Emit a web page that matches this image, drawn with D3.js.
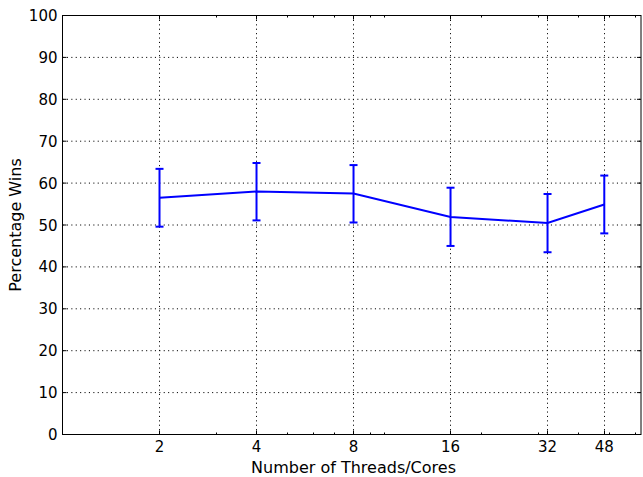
<!DOCTYPE html>
<html lang="en">
<head>
    <meta charset="UTF-8">
    <script src="https://d3js.org/d3.v7.min.js"></script>
    <style>
        body { margin: 0; background: #fff; }
        text { font-family: "DejaVu Sans", sans-serif; fill: #000; }
    </style>
    <title>Percentage Wins</title>
</head>
<body>
    <div class="canvas"></div>
    <script>
        const threads = [2, 4, 8, 16, 32, 48]
        const winPct = [56.5, 58.0, 57.5, 51.9, 50.5, 54.9]
        const errLow = [49.6, 51.1, 50.6, 45.0, 43.5, 48.0]
        const errHigh = [63.4, 64.8, 64.3, 58.9, 57.4, 61.8]
        const yTicks = [0, 10, 20, 30, 40, 50, 60, 70, 80, 90, 100]
        const minorTicks = [3, 5, 6, 7, 9, 10, 20, 30, 40, 50, 60]

        const width = 643, height = 477
        const [mt, mr, mb, ml] = [15.5, 2, 42.5, 62.5]
        const w = width - ml - mr, h = height - mt - mb

        const svg = d3.select('.canvas').append('svg')
            .attr('width', width).attr('height', height)

        const x = d3.scaleLog().base(2).domain([1, 62.4]).range([0, w])
        const y = d3.scaleLinear().domain([0, 100]).range([h, 0])
        const xs = d => Math.round(x(d))

        const g = svg.append('g').attr('transform', `translate(${ml},${mt})`)

        // grid
        g.selectAll('.gx').data(threads).enter().append('line')
            .attr('x1', xs).attr('x2', xs)
            .attr('y1', 0).attr('y2', h)
            .attr('stroke', '#000').attr('stroke-dasharray', '1.1,3.3')
        g.selectAll('.gy').data(yTicks).enter().append('line')
            .attr('x1', 0).attr('x2', w)
            .attr('y1', d => y(d)).attr('y2', d => y(d))
            .attr('stroke', '#000').attr('stroke-dasharray', '1.1,3.3')

        // ticks (inward, all four sides)
        const tickLines = (data, scale, len, horizontal) => {
            data.forEach(d => {
                if (horizontal) {
                    g.append('line').attr('x1', scale(d)).attr('x2', scale(d))
                        .attr('y1', h).attr('y2', h - len).attr('stroke', '#000')
                    g.append('line').attr('x1', scale(d)).attr('x2', scale(d))
                        .attr('y1', 0).attr('y2', len).attr('stroke', '#000')
                } else {
                    g.append('line').attr('y1', scale(d)).attr('y2', scale(d))
                        .attr('x1', 0).attr('x2', len).attr('stroke', '#000')
                    g.append('line').attr('y1', scale(d)).attr('y2', scale(d))
                        .attr('x1', w).attr('x2', w - len).attr('stroke', '#000')
                }
            })
        }
        tickLines(threads, xs, 4, true)
        tickLines(minorTicks, xs, 2, true)
        tickLines(yTicks, y, 4, false)

        // tick labels
        g.selectAll('.xl').data(threads).enter().append('text')
            .attr('x', d => x(d)).attr('y', h + 17)
            .attr('text-anchor', 'middle').style('font-size', '15px')
            .text(d => d)
        g.selectAll('.yl').data(yTicks).enter().append('text')
            .attr('x', -5).attr('y', d => y(d) + 5.5)
            .attr('text-anchor', 'end').style('font-size', '15px')
            .text(d => d)

        // frame
        g.append('rect').attr('width', w).attr('height', h)
            .attr('fill', 'none').attr('stroke', '#000')

        // line + error bars
        const data = threads.map((t, i) => ({ t, v: winPct[i], lo: errLow[i], hi: errHigh[i] }))
        g.append('path').datum(data)
            .attr('fill', 'none').attr('stroke', '#0000ff').attr('stroke-width', 2)
            .attr('d', d3.line().x(d => x(d.t)).y(d => y(d.v)))
        const eb = g.selectAll('.eb').data(data).enter().append('g')
            .attr('stroke', '#0000ff').attr('stroke-width', 2)
        eb.append('line').attr('x1', d => x(d.t)).attr('x2', d => x(d.t))
            .attr('y1', d => y(d.lo)).attr('y2', d => y(d.hi))
        eb.append('line').attr('x1', d => x(d.t) - 4).attr('x2', d => x(d.t) + 4)
            .attr('y1', d => y(d.lo)).attr('y2', d => y(d.lo))
        eb.append('line').attr('x1', d => x(d.t) - 4).attr('x2', d => x(d.t) + 4)
            .attr('y1', d => y(d.hi)).attr('y2', d => y(d.hi))

        // axis titles
        svg.append('text').attr('x', ml + x(8)).attr('y', 473)
            .attr('text-anchor', 'middle').style('font-size', '16px')
            .text('Number of Threads/Cores')
        svg.append('text').attr('transform', `translate(21,${mt + h / 2}) rotate(-90)`)
            .attr('text-anchor', 'middle').style('font-size', '16px')
            .text('Percentage Wins')
    </script>
</body>
</html>
